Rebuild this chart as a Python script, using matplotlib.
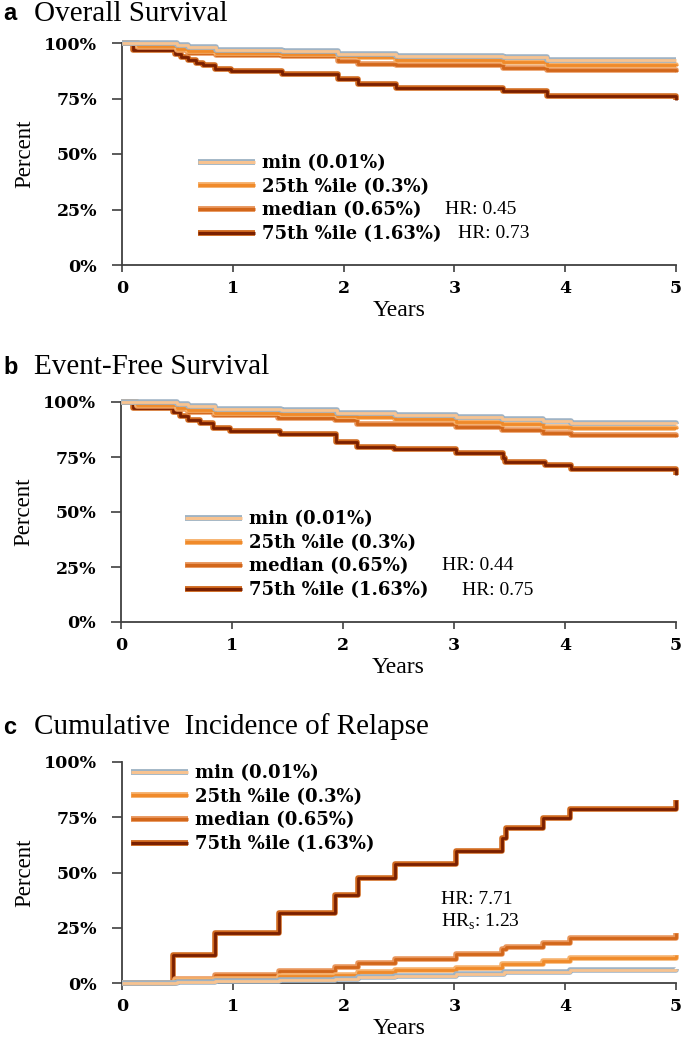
import matplotlib
matplotlib.use("Agg")
import matplotlib.pyplot as plt
import matplotlib.patheffects as pe
from matplotlib.lines import Line2D

# ---------------- data ----------------
series_names = ["min", "25th", "median", "75th"]
legend_labels = ["min (0.01%)", "25th %ile (0.3%)", "median (0.65%)", "75th %ile (1.63%)"]

# a) Overall survival
os_min_t = [0, 0.50, 0.60, 0.85, 1.44, 1.95, 2.47, 3.44, 3.84, 5.0]
os_min_s = [1.0, 0.99, 0.98, 0.97, 0.962, 0.952, 0.942, 0.935, 0.925, 0.922]
os_25_t = [0, 0.14, 0.50, 0.60, 0.85, 1.44, 1.95, 2.13, 2.47, 3.44, 3.84, 5.0]
os_25_s = [1.0, 0.985, 0.975, 0.965, 0.955, 0.950, 0.940, 0.935, 0.925, 0.915, 0.900, 0.897]
os_med_t = [0, 0.14, 0.50, 0.60, 0.85, 1.44, 1.95, 2.13, 2.47, 3.44, 3.84, 5.0]
os_med_s = [1.0, 0.98, 0.97, 0.955, 0.945, 0.940, 0.920, 0.905, 0.900, 0.889, 0.877, 0.870]
os_75_t = [0, 0.10, 0.48, 0.53, 0.60, 0.67, 0.73, 0.84, 0.98, 1.44, 1.95, 2.13, 2.47, 3.44, 3.84, 5.0]
os_75_s = [1.0, 0.970, 0.952, 0.938, 0.923, 0.911, 0.899, 0.884, 0.874, 0.859, 0.836, 0.814, 0.799, 0.784, 0.761, 0.743]

# b) Event-free survival
efs_min_t = [0, 0.50, 0.60, 0.85, 1.44, 1.95, 2.47, 3.02, 3.43, 3.80, 4.05, 5.0]
efs_min_s = [1.0, 0.99, 0.98, 0.97, 0.962, 0.952, 0.940, 0.932, 0.922, 0.915, 0.905, 0.902]
efs_25_t = [0, 0.14, 0.50, 0.60, 0.85, 1.44, 1.95, 2.13, 2.47, 3.02, 3.43, 3.80, 4.05, 5.0]
efs_25_s = [1.0, 0.985, 0.975, 0.965, 0.952, 0.945, 0.935, 0.930, 0.923, 0.910, 0.899, 0.888, 0.880, 0.876]
efs_med_t = [0, 0.14, 0.50, 0.60, 0.84, 1.41, 1.93, 2.13, 3.02, 3.43, 3.80, 4.05, 5.0]
efs_med_s = [1.0, 0.98, 0.97, 0.955, 0.940, 0.929, 0.918, 0.900, 0.885, 0.871, 0.860, 0.850, 0.843]
efs_75_t = [0, 0.11, 0.47, 0.53, 0.60, 0.71, 0.83, 0.98, 1.43, 1.94, 2.13, 2.46, 3.02, 3.44, 3.46, 3.82, 4.05, 5.0]
efs_75_s = [1.0, 0.973, 0.956, 0.938, 0.918, 0.903, 0.883, 0.868, 0.853, 0.819, 0.797, 0.786, 0.767, 0.747, 0.729, 0.714, 0.695, 0.668]

# c) Cumulative incidence of relapse
cir_min_t = [0, 0.50, 0.84, 1.42, 1.92, 2.13, 2.46, 3.01, 3.45, 4.04, 5.0]
cir_min_v = [0.0, 0.005, 0.010, 0.015, 0.020, 0.027, 0.033, 0.040, 0.052, 0.058, 0.062]
cir_25_t = [0, 0.48, 0.84, 1.42, 1.92, 2.13, 2.46, 3.01, 3.43, 3.80, 4.04, 5.0]
cir_25_v = [0.0, 0.012, 0.020, 0.030, 0.038, 0.050, 0.058, 0.070, 0.085, 0.098, 0.112, 0.125]
cir_med_t = [0, 0.48, 0.84, 1.42, 1.92, 2.13, 2.46, 3.01, 3.43, 3.47, 3.80, 4.04, 5.0]
cir_med_v = [0.0, 0.020, 0.037, 0.055, 0.072, 0.090, 0.108, 0.130, 0.152, 0.165, 0.182, 0.205, 0.228]
cir_75_t = [0, 0.46, 0.84, 1.42, 1.92, 2.13, 2.46, 3.01, 3.43, 3.47, 3.80, 4.04, 5.0]
cir_75_v = [0.0, 0.127, 0.225, 0.318, 0.398, 0.474, 0.538, 0.599, 0.655, 0.700, 0.748, 0.786, 0.828]

y_ticks = [0, 0.25, 0.5, 0.75, 1.0]
y_ticklabels = ["0%", "25%", "50%", "75%", "100%"]
x_ticks = [0, 1, 2, 3, 4, 5]

titles = ["Overall Survival", "Event-Free Survival", "Cumulative  Incidence of Relapse"]
panel_letters = ["a", "b", "c"]
hr_texts = [["HR: 0.45", "HR: 0.73"], ["HR: 0.44", "HR: 0.75"], ["HR: 7.71", r"HR$_\mathregular{s}$: 1.23"]]

# ---------------- style ----------------
plt.rcParams["mathtext.fontset"] = "custom"
plt.rcParams["mathtext.rm"] = "Liberation Serif"

line_color = {"min": "#F8C390", "25th": "#F08A2A", "median": "#D2661A", "75th": "#7A2000"}
edge_color = {"min": "#9FB3C4", "25th": "#F6B06A", "median": "#E8955A", "75th": "#D0691E"}

W, H = 685, 1038
fig = plt.figure(figsize=(W / 100, H / 100), dpi=100)


def rect(l, r, t, b):
    return [l / W, 1 - b / H, (r - l) / W, (b - t) / H]


axes_px = [(122, 676, 43, 265), (121, 676, 402, 622), (122, 676, 762, 983)]
legend_anchor = [(0.137, 0.499), (0.115, 0.508), (0.016, 0.990)]
hr_pos = [[(0.583, 0.248), (0.606, 0.144)], [(0.579, 0.259), (0.615, 0.145)], [(0.576, 0.376), (0.576, 0.276)]]
title_y = [14, 367, 727]

panels = [
    [(os_min_t, os_min_s), (os_25_t, os_25_s), (os_med_t, os_med_s), (os_75_t, os_75_s)],
    [(efs_min_t, efs_min_s), (efs_25_t, efs_25_s), (efs_med_t, efs_med_s), (efs_75_t, efs_75_s)],
    [(cir_min_t, cir_min_v), (cir_25_t, cir_25_v), (cir_med_t, cir_med_v), (cir_75_t, cir_75_v)],
]

tick_font = "DejaVu Serif"
times = "Liberation Serif"

for i, (px, data) in enumerate(zip(axes_px, panels)):
    ax = fig.add_axes(rect(*px))
    for k in [3, 2, 1, 0]:
        t, v = data[k]
        name = series_names[k]
        ax.step(t, v, where="post", color=line_color[name], lw=2.0,
                solid_capstyle="butt", clip_on=False, zorder=3 + (3 - k) * 0.1,
                path_effects=[pe.Stroke(linewidth=4.0, foreground=edge_color[name]), pe.Normal()])
    handles = []
    for k in range(4):
        name = series_names[k]
        h = Line2D([0], [0], color=line_color[name], lw=2.2, solid_capstyle="butt",
                   path_effects=[pe.Stroke(linewidth=4.2, foreground=edge_color[name]), pe.Normal()])
        handles.append(h)

    ax.set_xlim(0, 5)
    ax.set_ylim(0, 1)
    for s in ["top", "right"]:
        ax.spines[s].set_visible(False)
    for s in ["left", "bottom"]:
        ax.spines[s].set_color("#404040")
        ax.spines[s].set_linewidth(1.3)
    ax.set_yticks(y_ticks)
    ax.set_yticklabels(y_ticklabels, fontfamily=tick_font, fontsize=12.5, fontweight="bold")
    ax.set_xticks(x_ticks)
    ax.set_xticklabels([str(x) for x in x_ticks], fontfamily=tick_font, fontsize=12.5, fontweight="bold")
    ax.tick_params(axis="y", direction="out", length=7, width=1.2, color="#404040", pad=11)
    ax.tick_params(axis="x", direction="out", length=5, width=1.2, color="#404040", pad=6)
    ax.set_ylabel("Percent", fontfamily=times, fontsize=16.5, labelpad=6)
    ax.set_xlabel("Years", fontfamily=times, fontsize=17, labelpad=2)

    ax.legend(handles, legend_labels, loc="upper left", bbox_to_anchor=legend_anchor[i],
              frameon=False, prop={"family": tick_font, "size": 13, "weight": "bold"},
              handlelength=3.15, handletextpad=0.38, labelspacing=0.31, borderaxespad=0,
              borderpad=0)

    for (hx, hy), txt in zip(hr_pos[i], hr_texts[i]):
        ax.text(hx, hy, txt, transform=ax.transAxes, fontfamily=times, fontsize=14,
                ha="left", va="center")

    fig.text(3 / W, 1 - title_y[i] / H, panel_letters[i], fontfamily="Liberation Sans",
             fontweight="bold", fontsize=17, ha="left", va="center")
    fig.text(34 / W, 1 - title_y[i] / H, titles[i], fontfamily=times, fontsize=21,
             ha="left", va="center")

fig.savefig("out.png", dpi=100, facecolor="white")
